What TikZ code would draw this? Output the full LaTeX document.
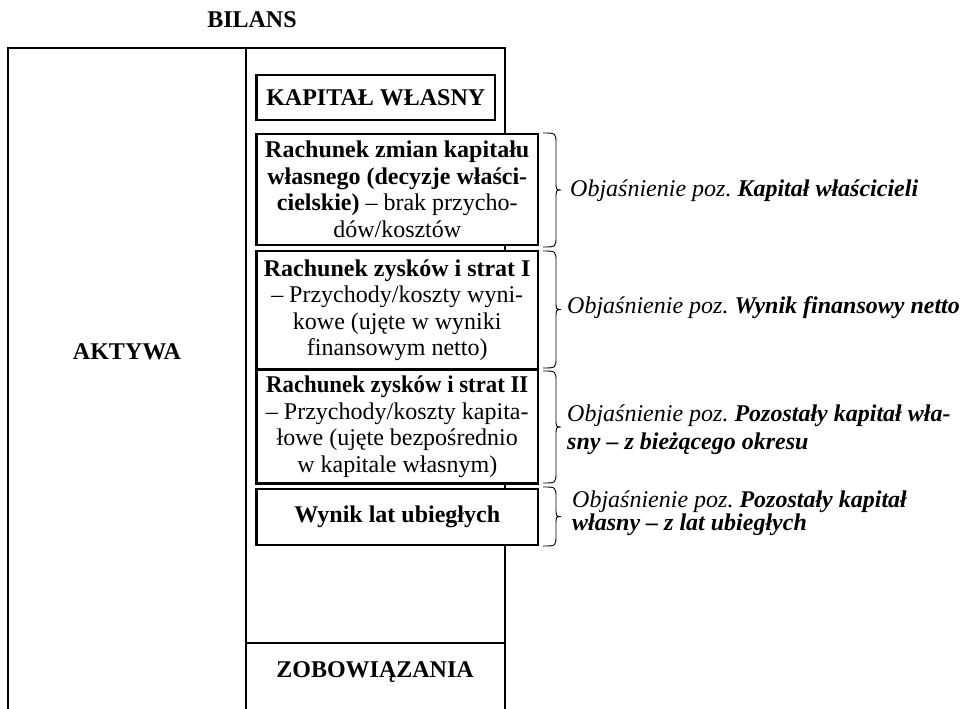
\documentclass[tikz,border=0pt]{standalone}
\usepackage{graphicx}
\usepackage{fontspec}
\setmainfont{Liberation Serif}
\frenchspacing
\begin{document}
\begin{tikzpicture}[x=1pt,y=-1pt,
  frameline/.style={line width=1.1pt},
  plain/.style={inner sep=0pt, font=\fontsize{24}{27}\selectfont\bfseries},
  entry/.style={draw, line width=2.6pt, fill=white, inner sep=0pt, align=center,
    font=\fontsize{24}{26.5}\selectfont},
  note/.style={inner sep=0pt, anchor=base west, align=left,
    font=\fontsize{24}{25}\selectfont\itshape},
  bracestyle/.style={line width=0.9pt}]
\useasboundingbox (0,0) rectangle (961,709);

% balance sheet frame
\draw[frameline] (8,709) -- (8,48) -- (505,48) -- (505,709);
\draw[frameline] (246,48) -- (246,709);
\draw[frameline] (246,643) -- (505,643);

\node[plain] (bilans) at (252,20) {BILANS};
\node[plain] (aktywa) at (127,352) {AKTYWA};
\node[plain] (zobow) at (375,672) {ZOBOWIĄZANIA};

% equity block and its parts
\node[entry, minimum width=238.5, minimum height=45, font=\fontsize{24}{26.5}\selectfont\bfseries]
  (kw) at (375.75,97.5) {KAPITAŁ WŁASNY};
\node[entry, minimum width=281.5, minimum height=111] (rzk) at (397.25,189.5)
  {\textbf{Rachunek zmian kapitału}\\ \textbf{własnego (decyzje właści-}\\
   \textbf{cielskie)} – brak przycho-\\ dów/kosztów};
\node[entry, minimum width=281.5, minimum height=118] (rzs1) at (397.25,310)
  {\textbf{Rachunek zysków i strat I}\\ – Przychody/koszty wyni-\\
   kowe (ujęte w wyniki\\ finansowym netto)};
\node[entry, minimum width=281.5, minimum height=114] (rzs2) at (397.25,426.5)
  {\scalebox{0.95}[1]{\textbf{Rachunek zysków i strat II}}\\ – Przychody/koszty kapita-\\
   łowe (ujęte bezpośrednio\\ w kapitale własnym)};
\node[entry, minimum width=281.5, minimum height=56, font=\fontsize{24}{26.5}\selectfont\bfseries]
  (wlu) at (397.25,517) {Wynik lat ubiegłych};

% right-hand braces
\newcommand{\sidebrace}[2]{%
  \draw[bracestyle] (543,#1) .. controls (556,#1) .. (556,{#1+11})
    -- (556,{(#1+#2)/2-9}) .. controls (556,{(#1+#2)/2}) .. (561,{(#1+#2)/2})
    .. controls (556,{(#1+#2)/2}) .. (556,{(#1+#2)/2+9})
    -- (556,{#2-11}) .. controls (556,#2) .. (543,#2);}
\sidebrace{133}{247}
\sidebrace{251}{368}
\sidebrace{371}{483}
\sidebrace{487}{546}

% explanations (a multi-line note is placed by its last baseline)
\node[note] (n1) at (570,196) {Objaśnienie poz. \textbf{Kapitał właścicieli}};
\node[note] (n2) at (567,313) {Objaśnienie poz. \textbf{Wynik finansowy netto}};
\node[note, font=\fontsize{24}{28}\selectfont\itshape] (n3) at (567,449)
  {Objaśnienie poz. \textbf{Pozostały kapitał wła-}\\
  \textbf{sny – z bieżącego okresu}};
\node[note, font=\fontsize{24}{23}\selectfont\itshape] (n4) at (572,530)
  {Objaśnienie poz. \textbf{Pozostały kapitał}\\ \textbf{własny – z lat ubiegłych}};
\end{tikzpicture}
\end{document}
